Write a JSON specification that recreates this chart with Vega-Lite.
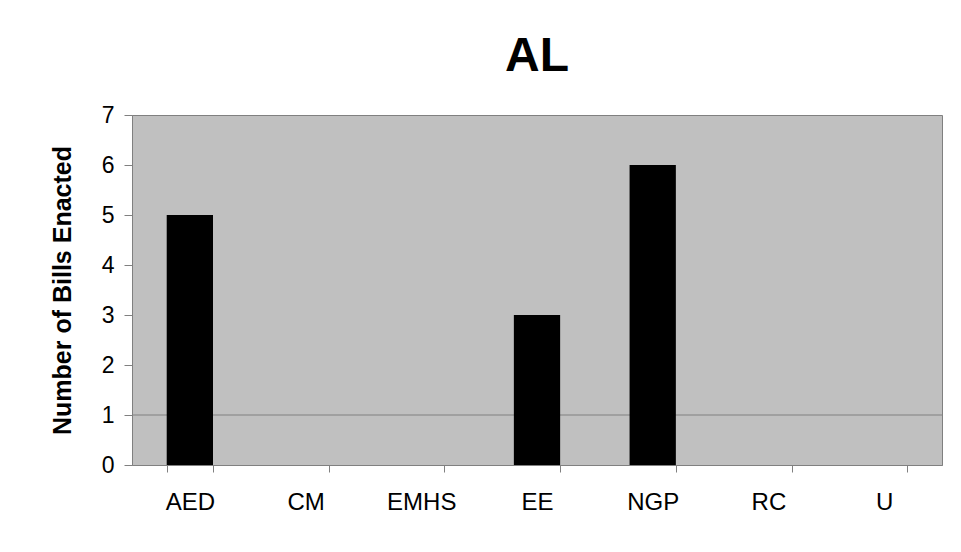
{
  "$schema": "https://vega.github.io/schema/vega-lite/v6.json",
  "autosize": {"type": "none"},
  "width": 810,
  "height": 350,
  "padding": {"left": 132, "top": 115, "right": 19, "bottom": 87},
  "background": "white",
  "title": {"text": "AL", "font": "Liberation Sans", "fontSize": 48, "fontWeight": "bold", "color": "black", "anchor": "middle", "offset": 23},
  "data": {"values": [
    {"category": "AED", "bills": 5},
    {"category": "CM", "bills": 0},
    {"category": "EMHS", "bills": 0},
    {"category": "EE", "bills": 3},
    {"category": "NGP", "bills": 6},
    {"category": "RC", "bills": 0},
    {"category": "U", "bills": 0}
  ]},
  "layer": [
    {
      "data": {"values": [{"g": 1}]},
      "mark": {"type": "rule", "color": "#808080", "strokeWidth": 1},
      "encoding": {"y": {"datum": 1, "type": "quantitative"}}
    },
    {
      "mark": {"type": "bar", "color": "black", "strokeWidth": 0},
      "encoding": {
        "x": {
          "field": "category", "type": "nominal", "sort": null,
          "scale": {"paddingInner": 0.6, "paddingOuter": 0.3},
          "axis": {"title": null, "labelAngle": 0, "tickBand": "extent", "tickSize": 7, "tickColor": "#808080", "domainColor": "#808080", "labelFont": "Liberation Sans", "labelFontSize": 24, "labelColor": "black", "labelPadding": 18, "grid": false}
        },
        "y": {
          "field": "bills", "type": "quantitative",
          "scale": {"domain": [0, 7]},
          "axis": {"title": "Number of Bills Enacted", "titleFont": "Liberation Sans", "titleFontSize": 25, "titleFontWeight": "bold", "titleColor": "black", "titlePadding": 26, "values": [0, 1, 2, 3, 4, 5, 6, 7], "grid": false, "tickSize": 8, "tickColor": "#808080", "domainColor": "#808080", "labelFont": "Liberation Sans", "labelFontSize": 23, "labelColor": "black", "labelPadding": 10}
        }
      }
    }
  ],
  "config": {"view": {"fill": "#C0C0C0", "stroke": "#808080"}}
}
